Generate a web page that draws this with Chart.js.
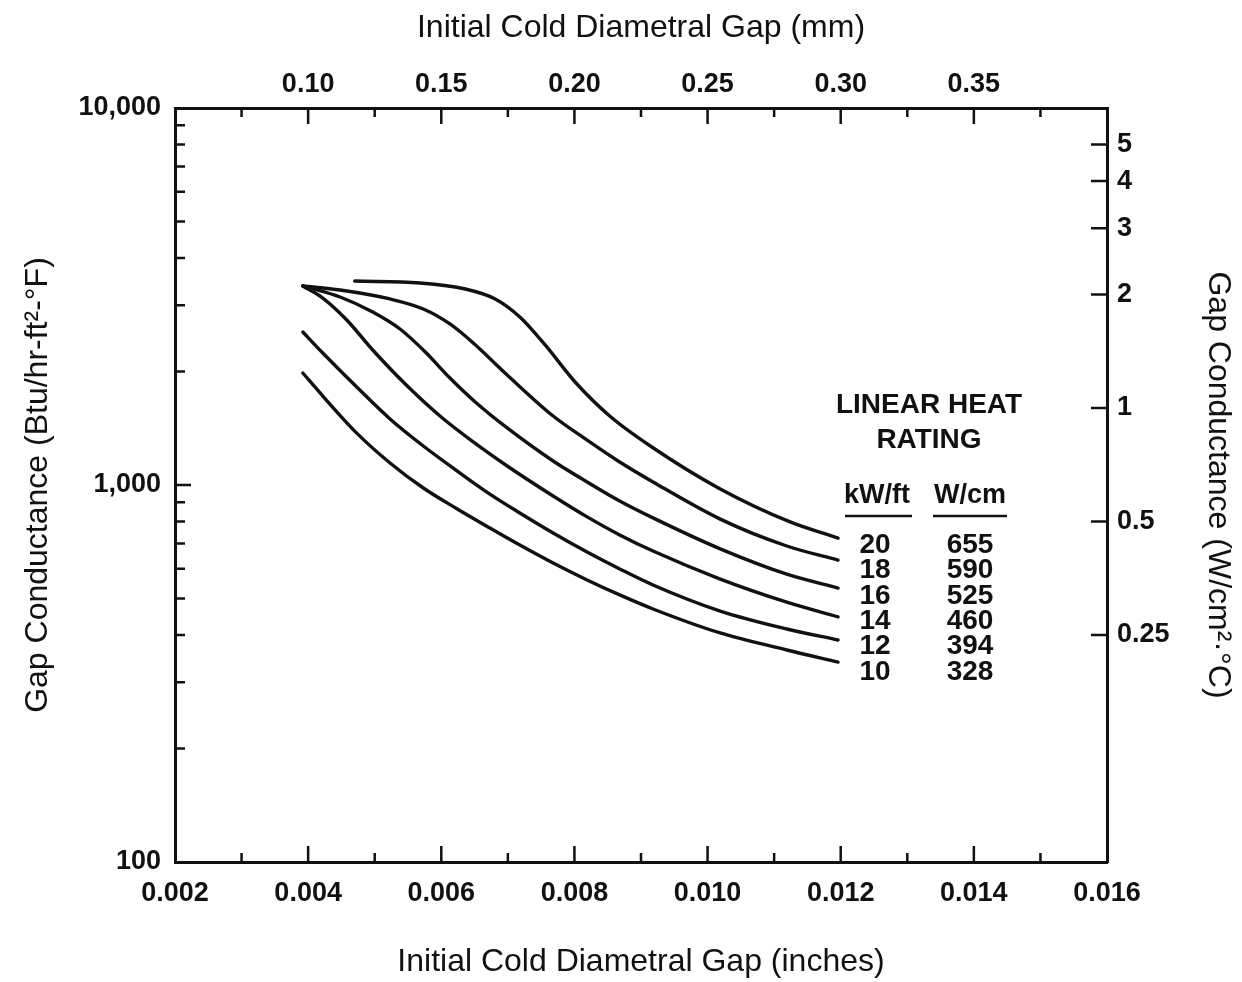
<!DOCTYPE html>
<html>
<head>
<meta charset="utf-8">
<title>Gap conductance vs initial cold diametral gap</title>
<script src="https://cdn.jsdelivr.net/npm/chart.js@4.4.1/dist/chart.umd.min.js"></script>
<style>
  html, body { margin: 0; padding: 0; background: #fff; }
  canvas { display: block; }
</style>
</head>
<body>
<canvas id="gap-chart" width="1242" height="982"></canvas>
<script>
//DATA

var ratingKwFt = [20, 18, 16, 14, 12, 10];
var ratingWcm = [655, 590, 525, 460, 394, 328];

// gap in inches, conductance in Btu/hr-ft2-F
var gap20 = [0.0047, 0.00568, 0.00636, 0.00681, 0.00718, 0.00756, 0.00801, 0.00853, 0.00914, 0.01019, 0.01124, 0.01196];
var h20 = [3476, 3434, 3311, 3115, 2790, 2352, 1876, 1524, 1269, 976, 798, 723];

var gap18 = [0.00392, 0.00448, 0.00523, 0.00573, 0.00613, 0.00648, 0.00699, 0.00768, 0.00819, 0.00868, 0.00918, 0.01019, 0.01119, 0.01196];
var h18 = [3372, 3290, 3115, 2930, 2674, 2381, 1958, 1524, 1316, 1151, 1019, 812, 689, 632];

var gap16 = [0.00392, 0.00448, 0.00497, 0.00538, 0.00576, 0.00613, 0.00651, 0.00699, 0.00768, 0.00819, 0.00868, 0.00918, 0.01019, 0.01119, 0.01196];
var h16 = [3372, 3153, 2877, 2593, 2253, 1922, 1661, 1417, 1158, 1019, 907, 818, 677, 580, 533];

var gap14 = [0.00392, 0.00422, 0.00458, 0.00497, 0.00549, 0.00598, 0.00648, 0.00699, 0.00768, 0.00819, 0.00868, 0.00918, 0.01019, 0.01119, 0.01196];
var h14 = [3372, 3133, 2740, 2281, 1830, 1524, 1301, 1123, 935, 823, 737, 668, 563, 489, 447];

var gap12 = [0.00392, 0.00422, 0.00473, 0.00523, 0.00573, 0.00624, 0.00673, 0.00718, 0.00768, 0.00819, 0.00868, 0.00918, 0.01019, 0.01119, 0.01196];
var h12 = [2546, 2239, 1819, 1497, 1269, 1089, 946, 843, 746, 664, 599, 543, 463, 415, 388];

var gap10 = [0.00392, 0.00422, 0.00473, 0.00523, 0.00573, 0.00624, 0.00673, 0.00718, 0.00768, 0.00819, 0.00868, 0.00918, 0.01019, 0.01119, 0.01196];
var h10 = [1982, 1722, 1373, 1144, 982, 864, 769, 693, 621, 560, 511, 469, 405, 365, 339];

// tick labels and tick marks
var inchLabels = [0.002, 0.004, 0.006, 0.008, 0.010, 0.012, 0.014, 0.016];
var inchMinor = [0.003, 0.005, 0.007, 0.009, 0.011, 0.013, 0.015];
var mmLabels = [0.10, 0.15, 0.20, 0.25, 0.30, 0.35];
var mmMinor = [0.075, 0.125, 0.175, 0.225, 0.275, 0.325, 0.375];
var btuLabels = [100, 1000, 10000];
var btuMinor = [200, 300, 400, 500, 600, 700, 800, 900, 2000, 3000, 4000, 5000, 6000, 7000, 8000, 9000];
var siLabels = [0.25, 0.5, 1, 2, 3, 4, 5];

var gaps = [gap20, gap18, gap16, gap14, gap12, gap10];
var conductances = [h20, h18, h16, h14, h12, h10];

var FONT = "'Liberation Sans', Arial, sans-serif";
var INK = "#111";

function points(xs, ys) {
  return xs.map(function (x, i) { return { x: x, y: ys[i] }; });
}

function fixTicks(values) {
  return function (scale) {
    scale.ticks = values.map(function (v) { return { value: v }; });
  };
}

// tick marks point into the plot, so they are drawn here
var inwardTicks = {
  id: "inwardTicks",
  afterDraw: function (chart) {
    var ctx = chart.ctx;
    var a = chart.chartArea;
    var s = chart.scales;
    ctx.save();
    ctx.strokeStyle = INK;
    ctx.lineWidth = 2.5;
    ctx.beginPath();
    function xTicks(scale, values, len, y, dir) {
      values.forEach(function (v) {
        var px = scale.getPixelForValue(v);
        ctx.moveTo(px, y);
        ctx.lineTo(px, y + dir * len);
      });
    }
    function yTicks(scale, values, len, x, dir) {
      values.forEach(function (v) {
        var py = scale.getPixelForValue(v);
        ctx.moveTo(x, py);
        ctx.lineTo(x + dir * len, py);
      });
    }
    xTicks(s.x, inchLabels.slice(1, -1), 16, a.bottom, -1);
    xTicks(s.x, inchMinor, 9, a.bottom, -1);
    xTicks(s.xTop, mmLabels, 16, a.top, 1);
    xTicks(s.xTop, mmMinor, 9, a.top, 1);
    yTicks(s.y, [1000], 16, a.left, 1);
    yTicks(s.y, btuMinor, 10, a.left, 1);
    yTicks(s.yRight, siLabels, 16, a.right, -1);
    ctx.stroke();
    ctx.restore();
  }
};

// legend table: LINEAR HEAT RATING
var ratingTable = {
  id: "ratingTable",
  afterDraw: function (chart) {
    var ctx = chart.ctx;
    ctx.save();
    ctx.fillStyle = INK;
    ctx.strokeStyle = INK;
    ctx.textAlign = "center";
    ctx.textBaseline = "middle";
    ctx.font = "bold 28px " + FONT;
    ctx.fillText("LINEAR HEAT", 929, 405);
    ctx.fillText("RATING", 929, 440);
    ctx.font = "bold 27px " + FONT;
    ctx.fillText("kW/ft", 877, 496);
    ctx.fillText("W/cm", 970, 496);
    ctx.lineWidth = 2.5;
    ctx.beginPath();
    ctx.moveTo(845, 516); ctx.lineTo(912, 516);
    ctx.moveTo(933, 516); ctx.lineTo(1007, 516);
    ctx.stroke();
    ctx.font = "bold 28px " + FONT;
    ratingKwFt.forEach(function (k, i) {
      var y = 545 + i * 25.4;
      ctx.fillText(String(k), 875, y);
      ctx.fillText(String(ratingWcm[i]), 970, y);
    });
    ctx.restore();
  }
};

var tickFont = { family: FONT, size: 27, weight: "bold" };
var titleFont = { family: FONT, size: 32 };
var border = { display: true, color: INK, width: 3 };
var noGrid = { display: true, drawOnChartArea: false, drawTicks: false };

var ctx = document.getElementById("gap-chart").getContext("2d");
var chart = new Chart(ctx, {
  type: "line",
  data: {
    datasets: ratingKwFt.map(function (k, i) {
      return {
        label: k + " kW/ft (" + ratingWcm[i] + " W/cm)",
        data: points(gaps[i], conductances[i]),
        borderColor: INK,
        borderWidth: 3.4,
        borderCapStyle: "round",
        borderJoinStyle: "round",
        pointRadius: 0,
        fill: false,
        cubicInterpolationMode: "monotone",
        xAxisID: "x",
        yAxisID: "y"
      };
    })
  },
  options: {
    responsive: false,
    animation: false,
    layout: { padding: 0 },
    plugins: {
      legend: { display: false },
      tooltip: { enabled: false }
    },
    scales: {
      x: {
        type: "linear",
        position: "bottom",
        min: 0.002,
        max: 0.016,
        afterBuildTicks: fixTicks(inchLabels),
        afterFit: function (s) { s.height = 120; },
        grid: noGrid,
        border: border,
        ticks: {
          autoSkip: false,
          maxRotation: 0,
          padding: 15,
          color: INK,
          font: tickFont,
          callback: function (v) { return Number(v).toFixed(3); }
        },
        title: {
          display: true,
          text: "Initial Cold Diametral Gap (inches)",
          color: INK,
          font: titleFont,
          padding: { bottom: 1 }
        }
      },
      xTop: {
        type: "linear",
        position: "top",
        min: 0.05,
        max: 0.40,
        afterBuildTicks: fixTicks(mmLabels),
        afterFit: function (s) { s.height = 108; },
        grid: noGrid,
        border: border,
        ticks: {
          autoSkip: false,
          maxRotation: 0,
          padding: 7,
          color: INK,
          font: tickFont,
          callback: function (v) { return Number(v).toFixed(2); }
        },
        title: {
          display: true,
          text: "Initial Cold Diametral Gap (mm)",
          color: INK,
          font: titleFont,
          padding: { top: 9 }
        }
      },
      y: {
        type: "logarithmic",
        position: "left",
        min: 100,
        max: 10000,
        afterBuildTicks: fixTicks(btuLabels),
        afterFit: function (s) { s.width = 175; },
        grid: noGrid,
        border: border,
        ticks: {
          autoSkip: false,
          padding: 14,
          color: INK,
          font: tickFont,
          callback: function (v) { return Number(v).toLocaleString("en-US"); }
        },
        title: {
          display: true,
          text: "Gap Conductance (Btu/hr-ft²-°F)",
          color: INK,
          font: titleFont,
          padding: { top: 19 }
        }
      },
      yRight: {
        type: "logarithmic",
        position: "right",
        min: 0.0625,
        max: 6.25,
        afterBuildTicks: fixTicks(siLabels),
        afterFit: function (s) { s.width = 135; },
        grid: noGrid,
        border: border,
        ticks: {
          autoSkip: false,
          padding: 10,
          color: INK,
          font: tickFont,
          callback: function (v) { return String(v); }
        },
        title: {
          display: true,
          text: "Gap Conductance (W/cm²·°C)",
          color: INK,
          font: titleFont,
          padding: { top: 5 }
        }
      }
    }
  },
  plugins: [inwardTicks, ratingTable]
});
</script>
</body>
</html>
